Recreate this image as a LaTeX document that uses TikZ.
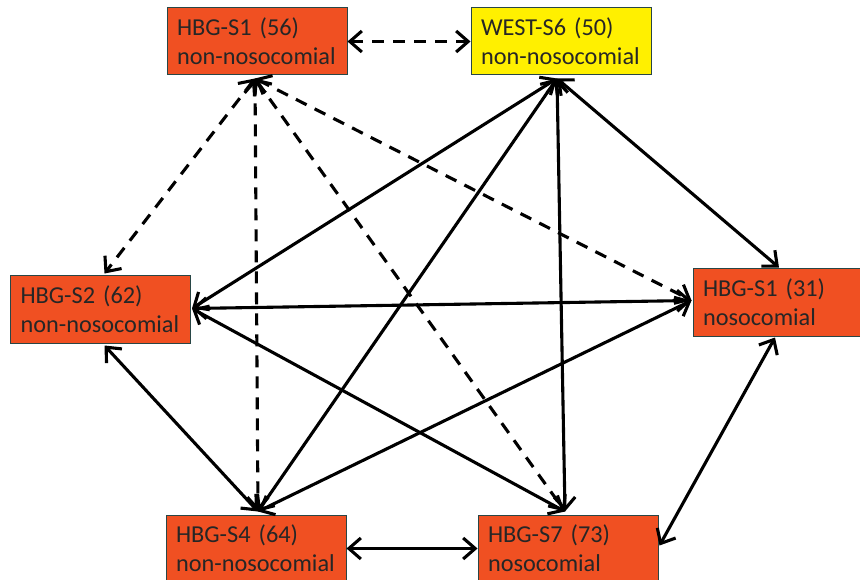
\documentclass[tikz,border=0pt]{standalone}
\usepackage{fontspec}
\setmainfont{Carlito}
\usetikzlibrary{arrows.meta,calc}
\definecolor{boxred}{RGB}{240,80,34}
\definecolor{boxyellow}{RGB}{255,240,0}
\definecolor{boxline}{RGB}{40,70,70}
\begin{document}
\begin{tikzpicture}[x=1pt,y=-1pt,
  site/.style={draw=boxline, line width=1pt, fill=boxred, rectangle,
    text width=160pt, inner xsep=10pt, inner ysep=0pt,
    minimum height=67pt, align=left,
    font=\fontsize{24.3}{29}\selectfont, text=black!85},
  link/.style={line width=3.1pt, {Straight Barb[length=12pt,width=21pt]}-{Straight Barb[length=12pt,width=21pt]}},
  dlink/.style={link, dash pattern=on 12pt off 9pt}]
\useasboundingbox (0,0) rectangle (860,580);
\node[site] (n1) at (257,41.5) {HBG-S1 (56)\\non-nosocomial};
\node[site, fill=boxyellow] (n6) at (561,41.5) {WEST-S6 (50)\\non-nosocomial};
\node[site] (n2) at (100.5,309.5) {HBG-S2 (62)\\non-nosocomial};
\node[site] (n31) at (783,302.5) {HBG-S1 (31)\\nosocomial};
\node[site] (n4) at (256,548.5) {HBG-S4 (64)\\non-nosocomial};
\node[site] (n7) at (568,548.5) {HBG-S7 (73)\\nosocomial};

\coordinate (n1b) at ($(n1.south)+(-2,3)$);
\coordinate (n6b) at ($(n6.south)+(-4,3)$);
\coordinate (n2r) at ($(n2.east)+(1,-1)$);
\coordinate (n2t) at ($(n2.north)+(4,-2)$);
\coordinate (n2s) at ($(n2.south)+(4,2)$);
\coordinate (n31l) at ($(n31.west)+(-1,-2)$);
\coordinate (n31t) at ($(n31.north)+(-4,-1)$);
\coordinate (n31s) at ($(n31.south)+(-8,1)$);
\coordinate (n4t) at ($(n4.north)+(2,-3)$);
\coordinate (n7t) at ($(n7.north)+(-3,-3)$);
\coordinate (n7r) at ($(n7.east)+(1,-3)$);

% dashed links from HBG-S1 (56)
\draw[dlink] (n1.east) -- (n6.west);
\draw[dlink] (n1b) -- (n2t);
\draw[dlink] (n1b) -- (n4t);
\draw[dlink] (n1b) -- (n7t);
\draw[dlink] (n1b) -- (n31l);

% solid links
\draw[link] (n6b) -- (n2r);
\draw[link] (n6b) -- (n4t);
\draw[link] (n6b) -- (n7t);
\draw[link] (n6b) -- (n31t);
\draw[link] (n2r) -- (n31l);
\draw[link] (n2r) -- (n7t);
\draw[link] (n2s) -- (n4t);
\draw[link] (n31l) -- (n4t);
\draw[link] (n4.east) -- (n7.west);
\draw[link] (n31s) -- (n7r);
\end{tikzpicture}
\end{document}
